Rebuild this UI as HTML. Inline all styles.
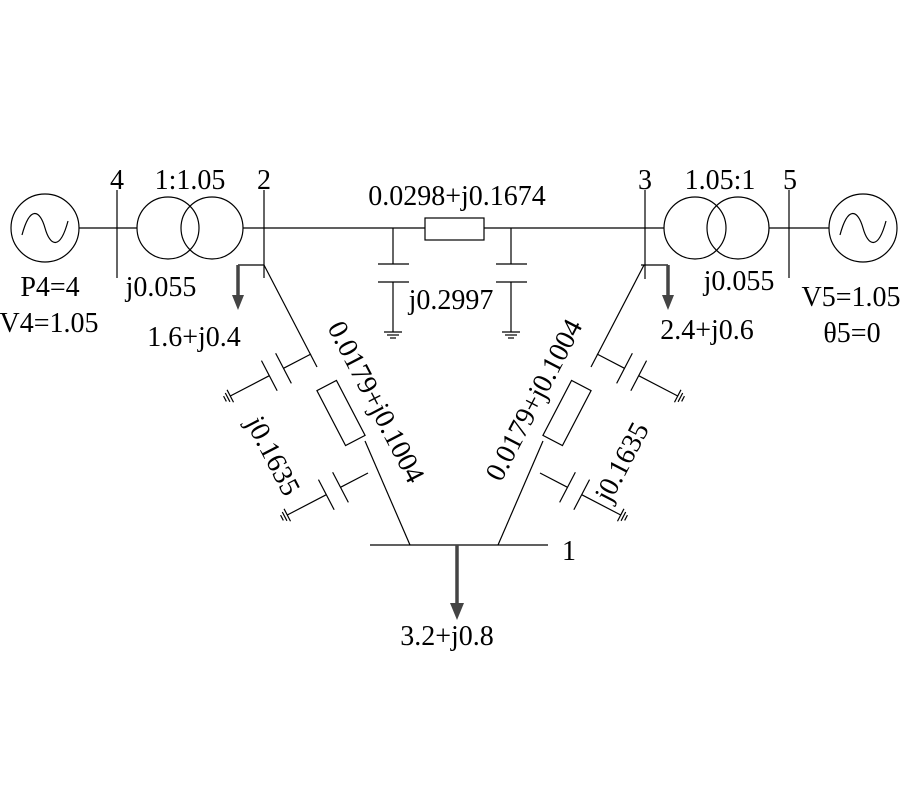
<!DOCTYPE html>
<html><head><meta charset="utf-8"><style>
html,body{margin:0;padding:0;background:#fff;}
svg{display:block;}
text{font-family:"Liberation Serif","DejaVu Serif",serif;font-size:28px;fill:#000;}
</style></head><body>
<svg width="900" height="800" viewBox="0 0 900 800" xmlns="http://www.w3.org/2000/svg">
<defs>
<g id="cap" stroke="#000" stroke-width="1.2" fill="none">
  <line x1="0" y1="0" x2="31" y2="0"/>
  <line x1="31" y1="-17" x2="31" y2="17"/>
  <line x1="47" y1="-17" x2="47" y2="17"/>
  <line x1="47" y1="0" x2="91" y2="0"/>
  <line x1="91" y1="-7" x2="91" y2="7"/>
  <line x1="94" y1="-5" x2="94" y2="5"/>
  <line x1="97" y1="-3" x2="97" y2="3"/>
</g>
<g id="branch" stroke="#000" stroke-width="1.2" fill="none">
  <line x1="264" y1="265" x2="317" y2="367"/>
  <line x1="365" y1="441" x2="410" y2="545"/>
  <rect x="-11" y="-31" width="22" height="62" transform="translate(341,413) rotate(-27.5)" fill="#fff"/>
  <use href="#cap" transform="translate(311,354) rotate(152.5)"/>
  <use href="#cap" transform="translate(368,473) rotate(152.5)"/>
</g>
</defs>
<g stroke="#000" stroke-width="1.2" fill="none">
  <circle cx="45" cy="228" r="34"/>
  <path d="M22,235 C30,205 40,210 45,228 C50,246 60,251 68,221"/>
  <line x1="79" y1="228" x2="137" y2="228"/>
  <line x1="117" y1="190" x2="117" y2="278"/>
  <circle cx="168" cy="228" r="31"/>
  <circle cx="212" cy="228" r="31"/>
  <line x1="243" y1="228" x2="664" y2="228"/>
  <line x1="264" y1="190" x2="264" y2="278"/>
  <line x1="238" y1="265" x2="264" y2="265"/>
  <rect x="425" y="218" width="59" height="22" fill="#fff"/>
  <line x1="393" y1="228" x2="393" y2="264"/>
  <line x1="378" y1="264" x2="409" y2="264"/>
  <line x1="378" y1="282" x2="409" y2="282"/>
  <line x1="393" y1="282" x2="393" y2="332"/>
  <line x1="384" y1="332" x2="402" y2="332"/>
  <line x1="387" y1="335" x2="399" y2="335"/>
  <line x1="390" y1="338" x2="396" y2="338"/>
  <line x1="511" y1="228" x2="511" y2="264"/>
  <line x1="496" y1="264" x2="527" y2="264"/>
  <line x1="496" y1="282" x2="527" y2="282"/>
  <line x1="511" y1="282" x2="511" y2="332"/>
  <line x1="502" y1="332" x2="520" y2="332"/>
  <line x1="505" y1="335" x2="517" y2="335"/>
  <line x1="508" y1="338" x2="514" y2="338"/>
  <line x1="645" y1="190" x2="645" y2="279"/>
  <circle cx="695" cy="228" r="31"/>
  <circle cx="738" cy="228" r="31"/>
  <line x1="769" y1="228" x2="829" y2="228"/>
  <line x1="789" y1="190" x2="789" y2="278"/>
  <circle cx="863" cy="228" r="34"/>
  <path d="M840,235 C848,205 858,210 863,228 C868,246 878,251 886,221"/>
  <line x1="641" y1="265" x2="668" y2="265"/>
  <line x1="370" y1="545" x2="548" y2="545"/>
</g>
<use href="#branch"/>
<use href="#branch" transform="translate(908,0) scale(-1,1)"/>
<g stroke="#444" stroke-width="3.5" fill="#444">
  <line x1="238" y1="265" x2="238" y2="296"/>
  <polygon points="232,295 244,295 238,310" stroke="none"/>
  <line x1="668" y1="265" x2="668" y2="296"/>
  <polygon points="662,295 674,295 668,310" stroke="none"/>
  <line x1="457" y1="545" x2="457" y2="604"/>
  <polygon points="450,603 464,603 457,620" stroke="none"/>
</g>
<text x="117" y="189" text-anchor="middle">4</text>
<text x="190" y="189" text-anchor="middle">1:1.05</text>
<text x="264" y="189" text-anchor="middle">2</text>
<text x="457" y="205" text-anchor="middle">0.0298+j0.1674</text>
<text x="645" y="189" text-anchor="middle">3</text>
<text x="720" y="189" text-anchor="middle">1.05:1</text>
<text x="790" y="189" text-anchor="middle">5</text>
<text x="50" y="296" text-anchor="middle">P4=4</text>
<text x="49" y="332" text-anchor="middle">V4=1.05</text>
<text x="161" y="296" text-anchor="middle">j0.055</text>
<text x="194" y="346" text-anchor="middle">1.6+j0.4</text>
<text x="451" y="309" text-anchor="middle">j0.2997</text>
<text x="739" y="290" text-anchor="middle">j0.055</text>
<text x="707" y="339" text-anchor="middle">2.4+j0.6</text>
<text x="851" y="306" text-anchor="middle">V5=1.05</text>
<text x="852" y="342" text-anchor="middle">θ5=0</text>
<text x="569" y="560" text-anchor="middle">1</text>
<text x="447" y="645" text-anchor="middle">3.2+j0.8</text>
<text x="0" y="9" text-anchor="middle" transform="translate(376,402) rotate(62.5)">0.0179+j0.1004</text>
<text x="0" y="9" text-anchor="middle" transform="translate(273,456) rotate(62.5)">j0.1635</text>
<text x="0" y="9" text-anchor="middle" transform="translate(534,400) rotate(-62.5)">0.0179+j0.1004</text>
<text x="0" y="9" text-anchor="middle" transform="translate(622,462) rotate(-62.5)">j0.1635</text>
</svg>
</body></html>
